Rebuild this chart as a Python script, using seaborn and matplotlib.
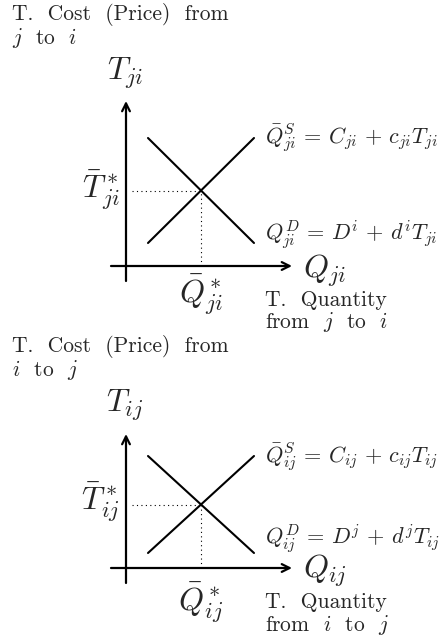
import matplotlib
matplotlib.use("Agg")
import matplotlib.pyplot as plt
import seaborn as sns
import pandas as pd

# Supply / demand lines for the two trade directions (quantity, transport cost)
line_q = [2.2, 12.8]
supply_t_ji = [2.3, 12.8]
demand_t_ji = [12.8, 2.3]
supply_t_ij = [1.5, 11.2]
demand_t_ij = [11.2, 1.5]

# Equilibrium points
eq_ji = (7.5, 7.55)
eq_ij = (7.5, 6.35)

sns.set_style("white")
plt.rcParams["font.family"] = "cmr10"
plt.rcParams["mathtext.fontset"] = "cm"
plt.rcParams["axes.unicode_minus"] = False

fig = plt.figure(figsize=(4.48, 6.38), dpi=100)

BODY = 15.5
EQ = 16
BIG = 23

panels = [
    dict(rect=[0, 0.5, 1, 0.5], ylim=(-5.3, 26.6), sub="ji", a="j", b="i",
         supply=supply_t_ji, demand=demand_t_ji, eq=eq_ji, ytop=16.5,
         title_y=(25.1, 22.8), tlabel_y=19.3, tstar_y=7.6, qstar_y=-2.9,
         qlabel_y=-0.5, s_y=12.8, d_y=3.1, qty_y=(-3.4, -5.6),
         dsup=r"D^i \/+\/ d^iT_{ji}"),
    dict(rect=[0, 0.0, 1, 0.5], ylim=(-7.0, 24.9), sub="ij", a="i", b="j",
         supply=supply_t_ij, demand=demand_t_ij, eq=eq_ij, ytop=13.4,
         title_y=(22.1, 19.8), tlabel_y=16.3, tstar_y=6.6, qstar_y=-3.5,
         qlabel_y=-0.3, s_y=11.1, d_y=2.9, qty_y=(-3.4, -5.7),
         dsup=r"D^j \/+\/ d^jT_{ij}"),
]

for p in panels:
    ax = fig.add_axes(p["rect"])
    ax.set_xlim(-12.6, 32.2)
    ax.set_ylim(*p["ylim"])
    ax.axis("off")

    df = pd.DataFrame({
        "Q": line_q + line_q,
        "T": p["supply"] + p["demand"],
        "curve": ["supply"] * 2 + ["demand"] * 2,
    })
    sns.lineplot(data=df, x="Q", y="T", units="curve", estimator=None,
                 color="black", lw=1.5, ax=ax, sort=False)

    # Axes with arrows
    arrow = dict(arrowstyle="->", lw=1.6, color="black", mutation_scale=14,
                 shrinkA=0, shrinkB=0)
    ax.annotate("", xy=(16.6, 0), xytext=(-1.5, 0), arrowprops=arrow)
    ax.annotate("", xy=(0, p["ytop"]), xytext=(0, -1.5), arrowprops=arrow)

    # Dotted guides to the equilibrium
    qe, te = p["eq"]
    ax.plot([0.6, qe], [te, te], color="black", lw=0.8, ls=(0, (1, 3)))
    ax.plot([qe, qe], [0, te], color="black", lw=0.8, ls=(0, (1, 3)))

    s, a, b = p["sub"], p["a"], p["b"]
    ax.text(-11.4, p["title_y"][0], "T.  Cost  (Price)  from", fontsize=BODY,
            ha="left", va="center")
    ax.text(-11.4, p["title_y"][1], rf"${a}$  to  ${b}$", fontsize=BODY,
            ha="left", va="center")
    ax.text(-0.1, p["tlabel_y"], rf"$T_{{{s}}}$", fontsize=BIG,
            ha="center", va="center")
    ax.text(-0.6, p["tstar_y"], rf"$\bar{{T}}^*_{{{s}}}$", fontsize=BIG,
            ha="right", va="center")
    ax.text(qe, p["qstar_y"], rf"$\bar{{Q}}^*_{{{s}}}$", fontsize=BIG,
            ha="center", va="center")
    ax.text(17.7, p["qlabel_y"], rf"$Q_{{{s}}}$", fontsize=BIG,
            ha="left", va="center")
    ax.text(13.9, p["s_y"],
            rf"$\bar{{Q}}^S_{{{s}}} \/=\/ C_{{{s}}} \/+\/ c_{{{s}}}T_{{{s}}}$",
            fontsize=EQ, ha="left", va="center")
    ax.text(13.9, p["d_y"], rf"$Q^D_{{{s}}} \/=\/ " + p["dsup"] + "$",
            fontsize=EQ, ha="left", va="center")
    ax.text(13.9, p["qty_y"][0], "T.  Quantity", fontsize=BODY,
            ha="left", va="center")
    ax.text(13.9, p["qty_y"][1], rf"from  ${a}$  to  ${b}$", fontsize=BODY,
            ha="left", va="center")

fig.savefig("out.png", dpi=100, facecolor="white")
